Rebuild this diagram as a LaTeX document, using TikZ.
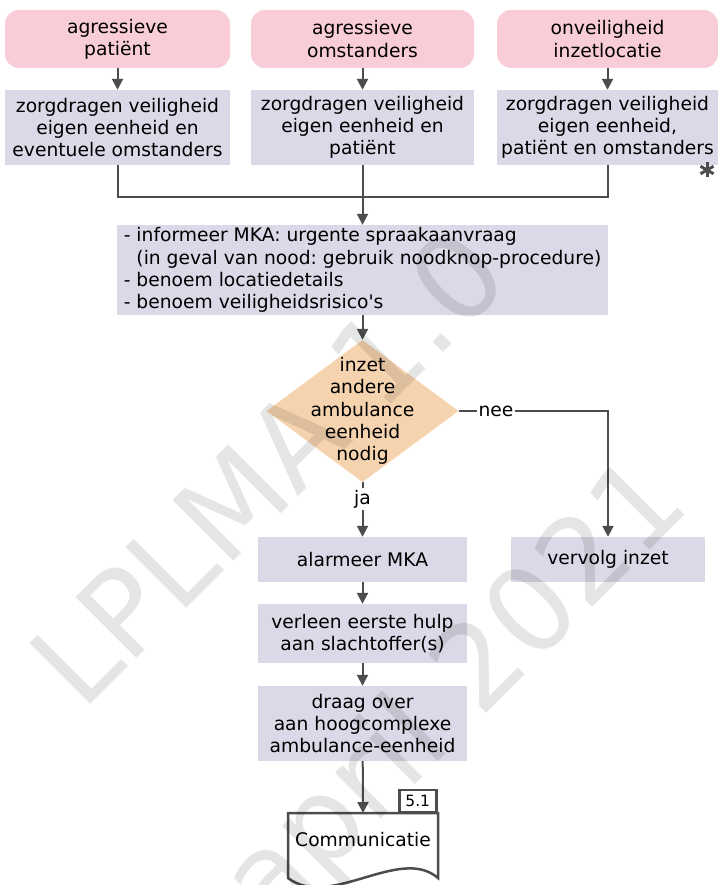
\documentclass[tikz,border=0pt]{standalone}
\usepackage{fontspec}
\setmainfont{DejaVu Sans}[Ligatures=TeXOff]
\usetikzlibrary{arrows.meta,shapes.geometric}
\definecolor{pinkc}{HTML}{F9CDD8}
\definecolor{lilac}{HTML}{DCD8E7}
\definecolor{peach}{HTML}{F5D3AE}
\definecolor{linec}{HTML}{4D4D4D}
\frenchspacing
\begin{document}
\begin{tikzpicture}[x=1pt,y=-1pt,
  every node/.style={font=\fontsize{18.7}{22.3}\selectfont, inner sep=0pt, align=center},
  startbox/.style={fill=pinkc, rounded corners=14pt},
  actbox/.style={fill=lilac},
  conn/.style={draw=linec, line width=2pt},
  arr/.style={conn, -{Triangle[width=11pt,length=11pt]}},
  lbl/.style={fill=white, inner sep=2pt},
  wm/.style={font=\fontsize{118}{118}\selectfont, text=black, text opacity=0.1, rotate=45, inner sep=0pt}]
\fill[white] (0,0) rectangle (717,885);
\useasboundingbox (0,0) rectangle (717,885);

% start boxes
\node[startbox, minimum width=225pt, minimum height=58pt] (p1) at (117.5,39) {agressieve\\patiënt};
\node[startbox, minimum width=223pt, minimum height=58pt] (p2) at (362.5,39) {agressieve\\omstanders};
\node[startbox, minimum width=221pt, minimum height=58pt] (p3) at (607.5,39) {onveiligheid\\inzetlocatie};

% action boxes
\node[actbox, minimum width=225pt, minimum height=75pt] (a1) at (117.5,127.5) {zorgdragen veiligheid\\eigen eenheid en\\eventuele omstanders};
\node[actbox, minimum width=223pt, minimum height=75pt] (a2) at (362.5,127.5) {zorgdragen veiligheid\\eigen eenheid en\\patiënt};
\node[actbox, minimum width=221pt, minimum height=75pt] (a3) at (607.5,127.5) {zorgdragen veiligheid\\eigen eenheid,\\patiënt en omstanders};

% asterisk
\foreach \a in {90,30,150}
  \draw[linec, line width=3pt] (707,170) ++(\a:7.5) -- ++(\a+180:15);

\node[actbox, minimum width=491pt, minimum height=90pt, align=left] (big) at (362.5,270)
  {- informeer MKA: urgente spraakaanvraag\\\phantom{- }(in geval van nood: gebruik noodknop-procedure)\\- benoem locatiedetails\\- benoem veiligheidsrisico's};

\node[diamond, fill=peach, minimum width=192pt, minimum height=142pt, inner sep=-45pt] (d) at (362.5,411)
  {inzet\\andere\\ambulance\\eenheid\\nodig};

\node[actbox, minimum width=209pt, minimum height=45pt] (alarm) at (362.5,559.5) {alarmeer MKA};
\node[actbox, minimum width=194pt, minimum height=45pt] (vervolg) at (608,559.5) {vervolg inzet};
\node[actbox, minimum width=209pt, minimum height=59pt] (verleen) at (362.5,633.5) {verleen eerste hulp\\aan slachtoffer(s)};
\node[actbox, minimum width=209pt, minimum height=75pt] (draag) at (362.5,723.5) {draag over\\aan hoogcomplexe\\ambulance-eenheid};

% document
\draw[linec, line width=2.5pt, fill=white] (288,813) -- (438,813) -- (438,878)
  .. controls (400,845) and (330,910) .. (288,878) -- cycle;
\node[minimum width=150pt, minimum height=52pt, anchor=north] (doc) at (363,813) {Communicatie};
\node[draw=linec, line width=2.5pt, fill=white, minimum width=37pt, minimum height=22pt, anchor=south east,
  font=\fontsize{15.5}{18}\selectfont] (tab) at (437.5,813) {5.1};

% connectors
\draw[arr] (p1) -- (a1);
\draw[arr] (p2) -- (a2);
\draw[arr] (p3) -- (a3);
\coordinate (merge) at (362.5,197);
\draw[conn] (a1.south) |- (merge);
\draw[conn] (a3.south) |- (merge);
\draw[arr] (a2.south) -- (merge) -- (big.north);
\draw[arr] (big) -- (d);
\draw[arr] (d.east) -- node[lbl, pos=0.25] {nee} (d.east -| vervolg.north) -- (vervolg.north);
\draw[arr] (d.south) -- node[lbl, pos=0.31] {ja} (alarm.north);
\draw[arr] (alarm) -- (verleen);
\draw[arr] (verleen) -- (draag);
\draw[arr] (draag) -- (doc.north);

% watermark
\node[wm, anchor=base west] (wm1) at (82,713) {LPLMA 1.0};
\node[wm, anchor=base east] (wm2) at (693,507) {april 2021};
\end{tikzpicture}
\end{document}
